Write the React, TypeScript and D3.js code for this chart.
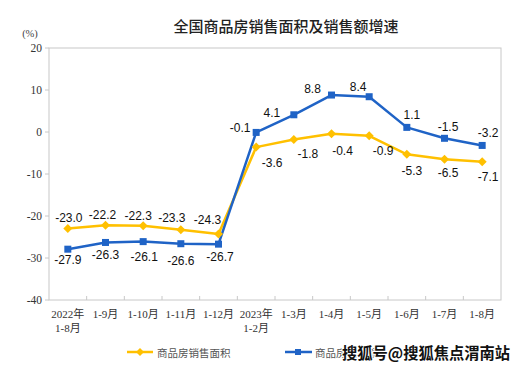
import React from "react";
import * as d3 from "d3";

const categories = [
  ["2022年", "1-8月"], ["1-9月"], ["1-10月"], ["1-11月"], ["1-12月"],
  ["2023年", "1-2月"], ["1-3月"], ["1-4月"], ["1-5月"], ["1-6月"], ["1-7月"], ["1-8月"],
];
const areaGrowth = [-23.0, -22.2, -22.3, -23.3, -24.3, -3.6, -1.8, -0.4, -0.9, -5.3, -6.5, -7.1];
const salesGrowth = [-27.9, -26.3, -26.1, -26.6, -26.7, -0.1, 4.1, 8.8, 8.4, 1.1, -1.5, -3.2];
const yTicks = [20, 10, 0, -10, -20, -30, -40];

// label placement offsets (px) relative to each point
const areaLabelDx = [1, -3, -5, -9, -11, 16, 14, 11, 14, 5, 3.5, 6];
const areaLabelDy = [-11, -10, -10, -12, -14, 16, 14.5, 17, 15, 17, 14, 15];
const salesLabelDx = [0, 0, 1, 0, 1.5, -16, -22, -19, -11, 5, 3.5, 6];
const salesLabelDy = [11, 13, 15, 17, 13, -4, -2, -6, -10, -12, -11, -12];

const W = 525, H = 372;
const left = 49, right = 501, top = 48, bottom = 300;
const YELLOW = "#FFC000";
const BLUE = "#1F63C6";

export default function App() {
  const keys = categories.map((c, i) => String(i));
  const x = d3.scaleBand<string>().domain(keys).range([left, right]).padding(0);
  const y = d3.scaleLinear().domain([-40, 20]).range([bottom, top]);
  const cx = (i: number) => (x(String(i)) as number) + x.bandwidth() / 2;
  const line = d3.line<number>().x((_, i) => cx(i)).y((d) => y(d));
  const serif = "'Liberation Serif', 'Times New Roman', 'Noto Sans CJK SC', serif";
  const sans = "'Liberation Sans', Arial, sans-serif";
  const cjk = "'Noto Sans CJK SC', sans-serif";

  const diamond = (px: number, py: number, r: number) =>
    `M${px},${py - r}L${px + r},${py}L${px},${py + r}L${px - r},${py}Z`;

  return (
    <svg width={W} height={H} style={{ position: "absolute", left: 0, top: 0, background: "#fff" }}>
      <rect x={0} y={0} width={W} height={H} fill="#fff" />
      <text x={286} y={25} textAnchor="middle" dominantBaseline="central" fontFamily={cjk} fontSize={15} fontWeight={500} fill="#222">
        全国商品房销售面积及销售额增速
      </text>
      <text x={30} y={33} textAnchor="middle" dominantBaseline="central" fontFamily={serif} fontSize={10.5} fill="#444">
        (%)
      </text>
      {/* plot box */}
      <rect x={left} y={top} width={right - left} height={bottom - top} fill="none" stroke="#c8c8c8" strokeWidth={1} />
      {/* y ticks */}
      {yTicks.map((t) => (
        <g key={t}>
          <line x1={left - 4} x2={left} y1={y(t)} y2={y(t)} stroke="#c8c8c8" />
          <text x={42} y={y(t)} textAnchor="end" dominantBaseline="central" fontFamily={serif} fontSize={11.5} fill="#333">
            {t}
          </text>
        </g>
      ))}
      {/* x ticks */}
      {keys.slice(1).map((k) => (
        <line key={k} x1={x(k)} x2={x(k)} y1={bottom} y2={bottom - 4} stroke="#c8c8c8" />
      ))}
      {categories.map((c, i) => (
        <text key={i} x={cx(i)} y={314.5} textAnchor="middle" fontFamily={serif} fontSize={11} fill="#333">
          {c.map((s, j) => (
            <tspan key={j} x={cx(i)} dy={j === 0 ? "0.35em" : 14}>
              {s}
            </tspan>
          ))}
        </text>
      ))}
      {/* lines */}
      <path d={line(areaGrowth) || ""} fill="none" stroke={YELLOW} strokeWidth={2.5} strokeLinejoin="round" />
      <path d={line(salesGrowth) || ""} fill="none" stroke={BLUE} strokeWidth={2.5} strokeLinejoin="round" />
      {areaGrowth.map((v, i) => (
        <path key={"a" + i} d={diamond(cx(i), y(v), 4.5)} fill={YELLOW} />
      ))}
      {salesGrowth.map((v, i) => (
        <rect key={"s" + i} x={cx(i) - 3.5} y={y(v) - 3.5} width={7} height={7} fill={BLUE} />
      ))}
      {/* data labels */}
      {areaGrowth.map((v, i) => (
        <text key={"al" + i} x={cx(i) + areaLabelDx[i]} y={y(v) + areaLabelDy[i]} textAnchor="middle" dominantBaseline="central" fontFamily={sans} fontSize={12} fill="#111">
          {v.toFixed(1)}
        </text>
      ))}
      {salesGrowth.map((v, i) => (
        <text key={"sl" + i} x={cx(i) + salesLabelDx[i]} y={y(v) + salesLabelDy[i]} textAnchor="middle" dominantBaseline="central" fontFamily={sans} fontSize={12} fill="#111">
          {v.toFixed(1)}
        </text>
      ))}
      {/* legend */}
      <line x1={127} x2={153} y1={352} y2={352} stroke={YELLOW} strokeWidth={2.5} />
      <path d={diamond(140, 352, 4)} fill={YELLOW} />
      <text x={157} y={352} dominantBaseline="central" fontFamily={cjk} fontSize={10.5} fill="#555">
        商品房销售面积
      </text>
      <line x1={285} x2={312} y1={352} y2={352} stroke={BLUE} strokeWidth={2.5} />
      <rect x={295} y={349} width={6} height={6} fill={BLUE} />
      <text x={315} y={352} dominantBaseline="central" fontFamily={cjk} fontSize={10.5} fill="#555">
        商品房销售额
      </text>
      {/* watermark */}
      <text x={342} y={352} dominantBaseline="central" fontFamily={cjk} fontSize={15.5} fontWeight={700} fill="#111" stroke="#fff" strokeWidth={2} paintOrder="stroke" textLength={168} lengthAdjust="spacingAndGlyphs">
        搜狐号@搜狐焦点渭南站
      </text>
    </svg>
  );
}
